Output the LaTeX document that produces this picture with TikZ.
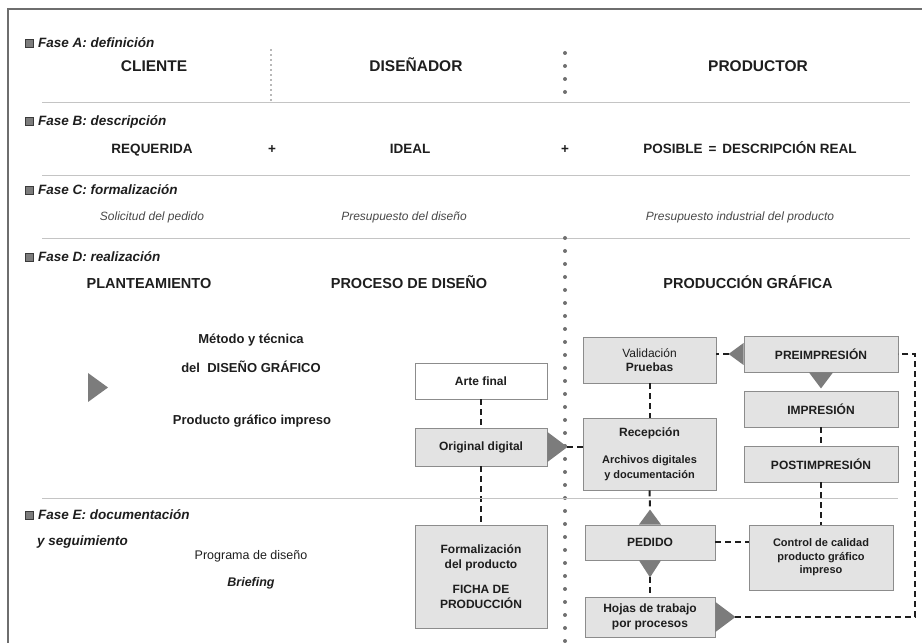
\documentclass[tikz,border=0pt]{standalone}
\usepackage{fontspec}
\setmainfont{Liberation Sans}
\usepackage{xcolor}
\newcommand{\chartwidth}{922pt}
\newcommand{\chartheight}{643pt}
\definecolor{framecolor}{HTML}{6E6E6E}
\definecolor{rulecolor}{HTML}{C4C4C4}
\definecolor{boxfill}{HTML}{E3E3E3}
\definecolor{boxline}{HTML}{8C8C8C}
\definecolor{arrowfill}{HTML}{7C7C7C}
\definecolor{textcolor}{HTML}{1E1E1E}
\definecolor{softtext}{HTML}{484848}
\definecolor{dotcolor}{HTML}{707070}
\definecolor{markline}{HTML}{3A3A3A}
\newcommand{\fasemark}{{\color{markline}\rule{9pt}{9pt}}\hspace{-8pt}%
  \raisebox{1pt}{\color{arrowfill}\rule{7pt}{7pt}}\hspace{1pt}}
\newcommand{\minortext}{\fontsize{11}{13.5}\selectfont}
\tikzset{
  fase/.style={anchor=west, inner sep=0pt, text=textcolor,
    font=\bfseries\itshape\fontsize{13.5}{16}\selectfont},
  actor/.style={text=textcolor, text height=0.75em, text depth=0pt,
    font=\bfseries\fontsize{15.5}{18}\selectfont},
  term/.style={text=textcolor, text height=0.75em, text depth=0pt,
    font=\bfseries\fontsize{13.5}{16}\selectfont},
  docu/.style={text=softtext, font=\itshape\fontsize{12}{14}\selectfont},
  stage/.style={text=textcolor, text height=0.75em, text depth=0pt,
    font=\bfseries\fontsize{14.5}{17}\selectfont},
  note/.style={text=textcolor, font=\bfseries\fontsize{13}{16}\selectfont},
  procbox/.style={draw=boxline, fill=boxfill, line width=0.9pt, align=center,
    inner sep=0pt, text=textcolor, font=\bfseries\fontsize{12}{14.5}\selectfont},
  link/.style={draw=textcolor, line width=2pt, dash pattern=on 6pt off 4pt},
  marker/.style={fill=arrowfill},
  seprule/.style={draw=rulecolor, line width=0.9pt},
  finedots/.style={draw=dotcolor, line width=1.8pt, line cap=round, dash pattern=on 0pt off 5pt},
  bigdots/.style={draw=dotcolor, line width=4pt, line cap=round, dash pattern=on 0pt off 13pt},
}

\begin{document}
\begin{tikzpicture}[x=1pt,y=1pt]
  \useasboundingbox (0,0) rectangle (\chartwidth,\chartheight);
  \draw[framecolor, line width=2.5pt] (8,0) -- (8,634) -- (\chartwidth,634);

  % === FASE A ===
  \node[fase] (faseA) at (25,600) {\fasemark\hspace{4pt}Fase A: definición};
  \node[actor] (cliente) at (154,575) {CLIENTE};
  \node[actor] (disenador) at (416,575) {DISEÑADOR};
  \node[actor] (productor) at (758,575) {PRODUCTOR};
  \draw[finedots] (271,593) -- (271,542);
  \draw[bigdots] (565,590) -- (565,541);
  \draw[seprule] (42,541) -- (910,541);

  % === FASE B ===
  \node[fase] (faseB) at (25,521) {\fasemark\hspace{4pt}Fase B: descripción};
  \node[term] (requerida) at (152,493) {REQUERIDA};
  \node[term] (plusleft) at (272,493) {+};
  \node[term] (ideal) at (410,493) {IDEAL};
  \node[term] (plusright) at (565,493) {+};
  \node[term] (posible) at (750,493) {POSIBLE \,=\, DESCRIPCIÓN REAL};
  \draw[seprule] (42,468) -- (910,468);

  % === FASE C ===
  \node[fase] (faseC) at (25,453) {\fasemark\hspace{4pt}Fase C: formalización};
  \node[docu] (solicitud) at (152,426) {Solicitud del pedido};
  \node[docu] (presdiseno) at (404,426) {Presupuesto del diseño};
  \node[docu] (presindustrial) at (740,426) {Presupuesto industrial del producto};
  \draw[seprule] (42,405) -- (910,405);
  \draw[bigdots] (565,405) -- (565,0);

  % === FASE D ===
  \node[fase] (faseD) at (25,386) {\fasemark\hspace{4pt}Fase D: realización};
  \node[stage] (planteamiento) at (149,358) {PLANTEAMIENTO};
  \node[stage] (proceso) at (409,358) {PROCESO DE DISEÑO};
  \node[stage] (produccion) at (748,358) {PRODUCCIÓN GRÁFICA};
  \node[note] (metodo) at (251,303) {Método y técnica};
  \node[note] (disenografico) at (251,276) {del \ DISEÑO GRÁFICO};
  \node[note] (producto) at (252,222) {Producto gráfico impreso};
  \fill[marker] (88,270) -- (108,255.5) -- (88,241) -- cycle;

  % design column
  \node[procbox, fill=white, minimum width=132pt, minimum height=36pt] (arte) at (481,262) {Arte final};
  \node[procbox, minimum width=132pt, minimum height=38pt] (original) at (481,196) {Original digital};
  \node[procbox, minimum width=132pt, minimum height=103pt] (formal) at (481,66.5)
    {Formalización\\del producto\\[11pt]FICHA DE\\PRODUCCIÓN};

  % production column
  \node[procbox, minimum width=133pt, minimum height=46pt] (validacion) at (649.5,283)
    {\mdseries Validación\\Pruebas};
  \node[procbox, minimum width=133pt, minimum height=72pt] (recepcion) at (649.5,189)
    {Recepción\\[13pt]\minortext Archivos digitales\\\minortext y documentación};
  \node[procbox, minimum width=130pt, minimum height=35pt] (pedido) at (650,100.5) {PEDIDO};
  \node[procbox, minimum width=130pt, minimum height=40pt] (hojas) at (650,26)
    {Hojas de trabajo\\por procesos};
  \node[procbox, minimum width=154pt, minimum height=36pt] (preimp) at (821,289) {PREIMPRESIÓN};
  \node[procbox, minimum width=154pt, minimum height=36pt] (imp) at (821,234) {IMPRESIÓN};
  \node[procbox, minimum width=154pt, minimum height=36pt] (postimp) at (821,179) {POSTIMPRESIÓN};
  \node[procbox, minimum width=144pt, minimum height=65pt, font=\bfseries\minortext] (control) at (821,85.5)
    {Control de calidad\\producto gráfico\\impreso};

  % markers
  \fill[marker] ([yshift=15pt]original.east) -- ++(20pt,-15pt) coordinate (origtip) -- ++(-20pt,-15pt) -- cycle;
  \fill[marker] ([yshift=11pt]preimp.west) -- ++(-15pt,-11pt) coordinate (preimptip) -- ++(15pt,-11pt) -- cycle;
  \fill[marker] ([xshift=-12pt]preimp.south) -- ++(12pt,-16pt) -- ++(12pt,16pt) -- cycle;
  \fill[marker] ([xshift=-11pt]pedido.north) -- ++(11pt,15pt) coordinate (pedidotop) -- ++(11pt,-15pt) -- cycle;
  \fill[marker] ([xshift=-11pt]pedido.south) -- ++(11pt,-17pt) coordinate (pedidobot) -- ++(11pt,17pt) -- cycle;
  \fill[marker] ([yshift=15pt]hojas.east) -- ++(20pt,-15pt) coordinate (hojastip) -- ++(-20pt,-15pt) -- cycle;

  % dashed links
  \draw[link] (arte) -- (original);
  \draw[link] (original) -- (formal);
  \draw[link] (origtip) -- (recepcion.west |- origtip);
  \draw[link] (preimptip) -- (validacion.east |- preimptip);
  \draw[link] (validacion) -- (recepcion);
  \draw[link] (imp) -- (postimp);
  \draw[link] (postimp) -- (control);
  \draw[link] (recepcion.south) -- (pedidotop);
  \draw[link] (pedidobot) -- (hojas.north);
  \draw[link] (pedido.east) -- (control.west |- pedido.east);
  \draw[link] (hojastip) -- ++(180pt,0pt) |- (preimp.east);

  % === FASE E ===
  \draw[seprule] (42,145) -- (898,145);
  \node[fase] (faseE) at (25,128) {\fasemark\hspace{4pt}Fase E: documentación};
  \node[fase] (seguimiento) at (37,101) {y seguimiento};
  \node[text=textcolor, font=\fontsize{12.5}{15}\selectfont] (programa) at (251,87) {Programa de diseño};
  \node[text=textcolor, font=\bfseries\itshape\fontsize{12.5}{15}\selectfont] (briefing) at (251,60) {Briefing};
\end{tikzpicture}
\end{document}
